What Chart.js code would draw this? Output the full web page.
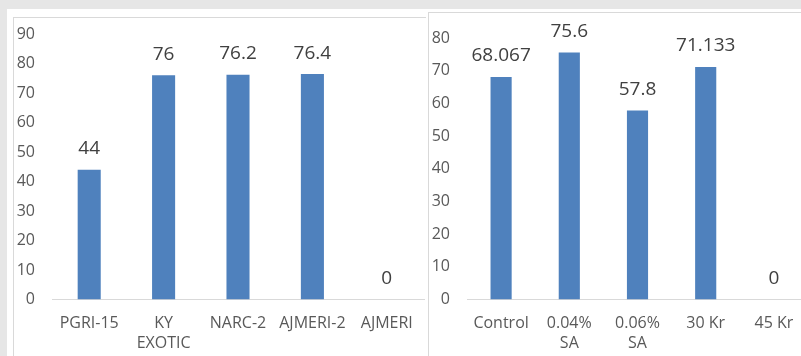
<!DOCTYPE html>
<html>
<head>
<meta charset="utf-8">
<script src="https://cdn.jsdelivr.net/npm/chart.js@4/dist/chart.umd.min.js"></script>
<style>
  html, body { margin: 0; padding: 0; }
  body { width: 801px; height: 356px; overflow: hidden; background: #e6e6e6; position: relative; }
  .sheet { position: absolute; left: 7px; top: 9px; right: 0; bottom: 0; background: #fff; }
  .frame { position: absolute; border-left: 1px solid #d9d9d9; border-top: 1px solid #d9d9d9; background: #fff; }
  #frameA { left: 13px; top: 17px; width: 412px; height: 339px; }
  #frameB { left: 428px; top: 12px; width: 373px; height: 344px; overflow: hidden; }
  canvas { position: absolute; }
  #chartA { left: 0; top: 0; }
  #chartB { left: 0; top: 0; }
</style>
</head>
<body>
<div class="sheet"></div>
<div class="frame" id="frameA"><canvas id="chartA" width="412" height="339"></canvas></div>
<div class="frame" id="frameB"><canvas id="chartB" width="381" height="344"></canvas></div>
<script>
// Varieties
const varietyLabels = ["PGRI-15", ["KY", "EXOTIC"], "NARC-2", "AJMERI-2", "AJMERI"];
const varietyValues = [44, 76, 76.2, 76.4, 0];
const varietyTicks = { min: 0, max: 90, step: 10 };

// Treatments
const treatmentLabels = ["Control", ["0.04%", "SA"], ["0.06%", "SA"], "30 Kr", "45 Kr"];
const treatmentValues = [68.067, 75.6, 57.8, 71.133, 0];
const treatmentTicks = { min: 0, max: 80, step: 10 };

const BAR_COLOR = "#4f81bd";
const FONT = "'Open Sans', 'Noto Sans', sans-serif";

Chart.defaults.font.family = FONT;
Chart.defaults.color = "#595959";

// Writes each bar's value above it
const valueLabels = {
  id: "valueLabels",
  afterDatasetsDraw(chart) {
    const ctx = chart.ctx;
    ctx.save();
    ctx.font = "19px " + FONT;
    ctx.fillStyle = "#404040";
    ctx.textAlign = "center";
    ctx.textBaseline = "middle";
    chart.data.datasets.forEach((ds, di) => {
      chart.getDatasetMeta(di).data.forEach((bar, i) => {
        ctx.fillText(String(ds.data[i]), bar.x, bar.y - 21);
      });
    });
    ctx.restore();
  }
};

function makeChart(id, labels, values, ticks, topPad) {
  return new Chart(document.getElementById(id), {
    type: "bar",
    data: {
      labels: labels,
      datasets: [{
        data: values,
        backgroundColor: BAR_COLOR,
        borderWidth: 0,
        categoryPercentage: 1,
        barPercentage: 0.31
      }]
    },
    options: {
      responsive: false,
      animation: false,
      devicePixelRatio: 1,
      layout: { padding: { top: topPad, right: 2, left: 0, bottom: 0 } },
      plugins: { legend: { display: false }, tooltip: { enabled: false } },
      scales: {
        x: {
          grid: { display: false, drawTicks: false },
          border: { display: true, color: "#d9d9d9", width: 1 },
          ticks: { padding: 14, font: { size: 16, lineHeight: 1.25 }, color: "#595959", maxRotation: 0, autoSkip: false },
          afterFit(scale) {
            scale.height = 57.5;
            scale.paddingLeft = 0;
            scale.paddingRight = 0;
          }
        },
        y: {
          min: ticks.min,
          max: ticks.max,
          grid: { display: false, drawTicks: false },
          border: { display: false },
          ticks: { stepSize: ticks.step, padding: 17, font: { size: 16 }, color: "#595959" },
          afterFit(scale) {
            scale.width = 38;
            scale.paddingTop = 0;
            scale.paddingBottom = 0;
          }
        }
      }
    },
    plugins: [valueLabels]
  });
}

makeChart("chartA", varietyLabels, varietyValues, varietyTicks, 16);
makeChart("chartB", treatmentLabels, treatmentValues, treatmentTicks, 25);
</script>
</body>
</html>
